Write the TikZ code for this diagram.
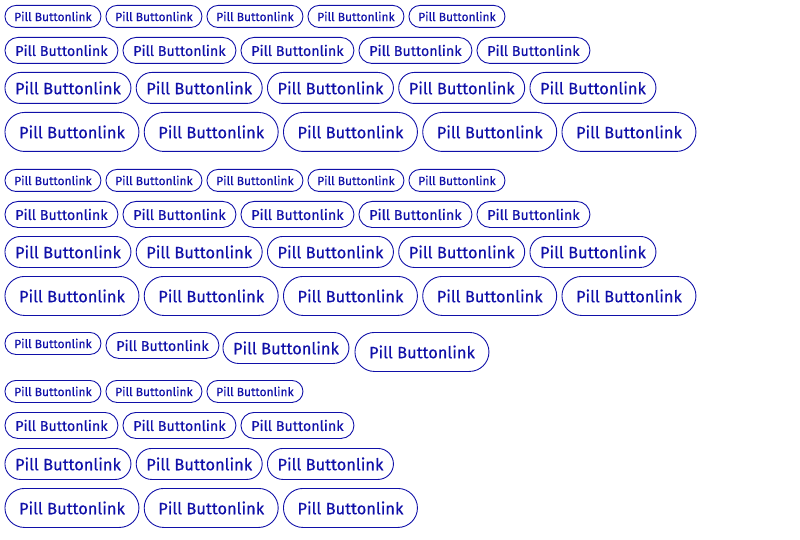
\documentclass[tikz,border=0pt]{standalone}
\usepackage{fontspec}
\setmainfont{Fira Sans}[FakeBold=0.3]
\definecolor{pillblue}{RGB}{16,16,168}
\tikzset{
  pill/.style={draw=pillblue, text=pillblue, line width=0.9pt, inner sep=0pt, anchor=north west},
  pillxs/.style={pill, minimum width=96pt, minimum height=22pt, rounded corners=11pt, font=\fontsize{12}{12}\selectfont},
  pills/.style={pill, minimum width=113pt, minimum height=26pt, rounded corners=13pt, font=\fontsize{14.3}{14}\selectfont},
  pillm/.style={pill, minimum width=126pt, minimum height=31pt, rounded corners=15.5pt, font=\fontsize{16.4}{16}\selectfont},
  pilll/.style={pill, minimum width=134pt, minimum height=39pt, rounded corners=19.5pt, font=\fontsize{16.4}{16}\selectfont}
}
\begin{document}
\begin{tikzpicture}[x=1pt,y=-1pt]
\useasboundingbox (0,0) rectangle (800,540);
% two full blocks, five per row
\foreach \blk/\dy in {a/0,b/164}{
  \foreach \sz/\top/\pitch in {xs/5/101,s/37/118,m/72/131.25,l/112/139.25}
    \foreach \i in {1,...,5}
      \node[pill\sz] (\blk-\sz-\i) at ({4.5+(\i-1)*\pitch},\top+\dy) {Pill Buttonlink};
}
% mixed sizes on one line
\node[pillxs] (c-xs) at (4.5,332) {Pill Buttonlink};
\node[pills] (c-s) at (105.5,332) {Pill Buttonlink};
\node[pillm] (c-m) at (222.5,332) {Pill Buttonlink};
\node[pilll] (c-l) at (354.5,332) {Pill Buttonlink};
% three per row
\foreach \sz/\top/\pitch in {xs/380/101,s/412/118,m/448/131.25,l/488/139.25}
  \foreach \i in {1,2,3}
    \node[pill\sz] (d-\sz-\i) at ({4.5+(\i-1)*\pitch},\top) {Pill Buttonlink};
\end{tikzpicture}
\end{document}
